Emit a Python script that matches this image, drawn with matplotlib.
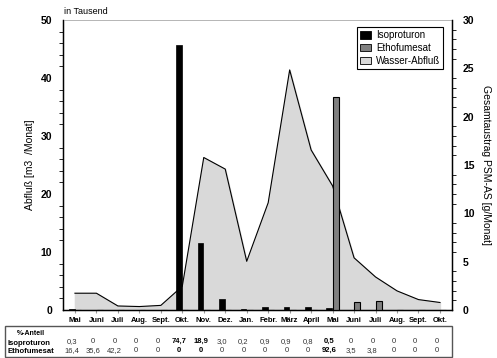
import numpy as np
import matplotlib
matplotlib.use("Agg")
import matplotlib.pyplot as plt
from matplotlib.patches import Patch, Rectangle

plt.rcParams['font.family'] = ['Liberation Sans', 'DejaVu Sans']

months = ["Mai", "Juni", "Juli", "Aug.", "Sept.", "Okt.", "Nov.", "Dez.", "Jan.",
          "Febr.", "März", "April", "Mai", "Juni", "Juli", "Aug.", "Sept.", "Okt."]

# Wasser-Abfluss in Tausend m3/Monat (linke Achse)
abfluss = [2.9, 2.9, 0.7, 0.6, 0.8, 4.1, 26.3, 24.3, 8.4, 18.5, 41.4, 27.6,
           21.4, 9.0, 5.7, 3.3, 1.8, 1.3]
# Austrag g/Monat (rechte Achse)
isoproturon = [0.11, 0, 0, 0, 0, 27.4, 6.9, 1.1, 0.07, 0.33, 0.33, 0.29,
               0.18, 0, 0, 0, 0, 0]
ethofumesat = [0, 0, 0, 0, 0, 0, 0, 0, 0, 0, 0, 0,
               22.0, 0.8, 0.93, 0, 0, 0]

# %-Anteil Tabelle
pct_iso = ["0,3", "0", "0", "0", "0", "74,7", "18,9", "3,0", "0,2", "0,9", "0,9",
           "0,8", "0,5", "0", "0", "0", "0", "0"]
pct_etho = ["16,4", "35,6", "42,2", "0", "0", "0", "0", "0", "0", "0", "0",
            "0", "92,6", "3,5", "3,8", "0", "0", "0"]
bold_iso = [5, 6, 12]
bold_etho = [5, 6, 12]

x = np.arange(len(months))

fig = plt.figure(figsize=(4.97, 3.58), dpi=100)
ax = fig.add_axes([0.127, 0.134, 0.782, 0.81])
ax2 = ax.twinx()

ax.fill_between(x, abfluss, 0, color="#d9d9d9", zorder=1)
ax.plot(x, abfluss, color="black", lw=0.8, zorder=2)

w = 0.27
ax2.bar(x - 0.15, isoproturon, w, color="black", edgecolor="black", lw=0.5)
ax2.bar(x + 0.15, ethofumesat, w, color="#808080", edgecolor="black", lw=0.8)

ax.set_xlim(-0.55, 17.55)
ax.set_ylim(0, 50)
ax2.set_ylim(0, 30)

ax.set_yticks([0, 10, 20, 30, 40, 50])
ax.set_yticks(np.arange(0, 51, 2), minor=True)
ax2.set_yticks([0, 5, 10, 15, 20, 25, 30])
ax2.set_yticks(np.arange(0, 31, 1), minor=True)

ax.set_xticks(x)
ax.set_xticklabels(months, fontsize=5.5, fontweight="bold")
ax.tick_params(axis="x", length=2, color="#999999", pad=3)
ax.tick_params(axis="y", which="major", length=0, labelsize=7.5, pad=8)
ax.tick_params(axis="y", which="minor", length=3, width=0.6, direction="out")
ax2.tick_params(axis="y", which="major", length=0, labelsize=7.5, pad=8)
ax2.tick_params(axis="y", which="minor", length=3, width=0.6, direction="out")
for lab in ax.get_yticklabels() + ax2.get_yticklabels():
    lab.set_fontweight("bold")

ax.spines["top"].set_color("#aaaaaa")
ax.spines["top"].set_linewidth(0.6)
ax2.spines["top"].set_visible(False)
for s in ["left", "bottom"]:
    ax.spines[s].set_linewidth(1.0)
ax2.spines["right"].set_linewidth(1.0)

ax.set_ylabel("Abfluß [m3  /Monat]", fontsize=7.5, labelpad=4)
ax2.set_ylabel("Gesamtaustrag PSM-AS [g/Monat]", fontsize=7.5, rotation=-90,
               labelpad=12)
fig.text(0.129, 0.968, "in Tausend", fontsize=6.5, ha="left", va="center")

handles = [Patch(facecolor="black", edgecolor="black", lw=0.6),
           Patch(facecolor="#808080", edgecolor="black", lw=0.6),
           Patch(facecolor="#d9d9d9", edgecolor="black", lw=0.6)]
leg = ax2.legend(handles, ["Isoproturon", "Ethofumesat", "Wasser-Abfluß"],
                 loc="upper right", bbox_to_anchor=(0.977, 0.975), fontsize=7,
                 fancybox=False, framealpha=1, edgecolor="black",
                 handlelength=1.1, handleheight=0.8, handletextpad=0.5,
                 borderpad=0.3, labelspacing=0.3, borderaxespad=0)
leg.get_frame().set_linewidth(0.8)

# Tabelle unter der Grafik
box = Rectangle((0.01, 0.003), 0.9, 0.085, transform=fig.transFigure,
                fill=False, edgecolor="#555555", lw=1.0)
fig.patches.append(box)
tr = matplotlib.transforms.blended_transform_factory(ax.transData, fig.transFigure)
fig.text(0.062, 0.068, "%-Anteil", fontsize=5, fontweight="bold", ha="center", va="center")
fig.text(0.016, 0.04, "Isoproturon", fontsize=5.5, fontweight="bold", ha="left", va="center")
fig.text(0.016, 0.018, "Ethofumesat", fontsize=5.5, fontweight="bold", ha="left", va="center")
for i in range(len(months)):
    ax.text(x[i] - 0.15, 0.046, pct_iso[i], transform=tr, fontsize=5.5,
            ha="center", va="center", color="#333333" if i not in bold_iso else "black",
            fontweight="bold" if i in bold_iso else "normal", clip_on=False)
    ax.text(x[i] - 0.15, 0.02, pct_etho[i], transform=tr, fontsize=5.5,
            ha="center", va="center", color="#333333" if i not in bold_etho else "black",
            fontweight="bold" if i in bold_etho else "normal", clip_on=False)

fig.savefig("out.png", dpi=100)
